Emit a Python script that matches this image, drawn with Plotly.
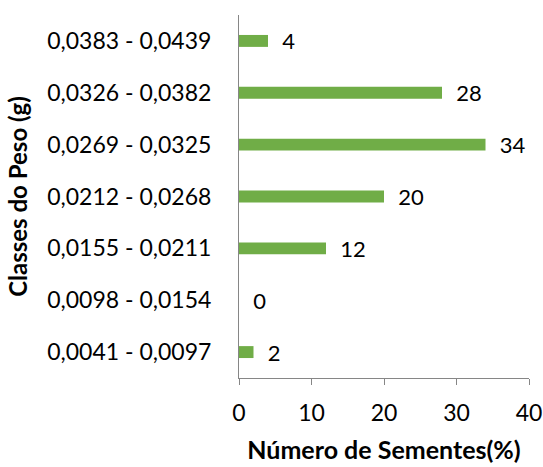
import plotly.graph_objects as go

categories = ["0,0041 - 0,0097", "0,0098 - 0,0154", "0,0155 - 0,0211",
              "0,0212 - 0,0268", "0,0269 - 0,0325", "0,0326 - 0,0382",
              "0,0383 - 0,0439"]
values = [2, 0, 12, 20, 34, 28, 4]
x_ticks = [0, 10, 20, 30, 40]

FONT = "Lato, 'Open Sans', sans-serif"

fig = go.Figure(go.Bar(
    y=categories, x=values, orientation="h",
    marker=dict(color="#70AD47", line=dict(width=0)),
    width=0.23,
    text=["  " + str(v) for v in values], textposition="outside",
    constraintext="none",
    textfont=dict(size=22, color="black", family=FONT),
    cliponaxis=False,
))

fig.update_layout(
    width=543, height=467,
    margin=dict(l=239, r=14, t=15, b=89, autoexpand=False),
    paper_bgcolor="white", plot_bgcolor="white",
    font=dict(family=FONT, color="black", size=22),
    showlegend=False,
    xaxis=dict(
        range=[0, 40], tickvals=x_ticks, showgrid=False, zeroline=False,
        showline=True, linecolor="#868686", linewidth=1,
        ticks="outside", ticklen=6, tickcolor="#868686",
        ticklabelstandoff=8, automargin=False,
        tickfont=dict(size=23), title=dict(text="<b>Número de Sementes(%)</b>",
                                           font=dict(size=25), standoff=16),
    ),
    yaxis=dict(
        showgrid=False, zeroline=False, showline=True, linecolor="#868686",
        linewidth=1, ticks="", tickfont=dict(size=23), automargin=False,
        ticklabelstandoff=22,
        categoryorder="array", categoryarray=categories,
        title=dict(text="<b>Classes do Peso (g)</b>", font=dict(size=24), standoff=12),
    ),
    bargap=0.77,
)

fig.write_html("out.html")
